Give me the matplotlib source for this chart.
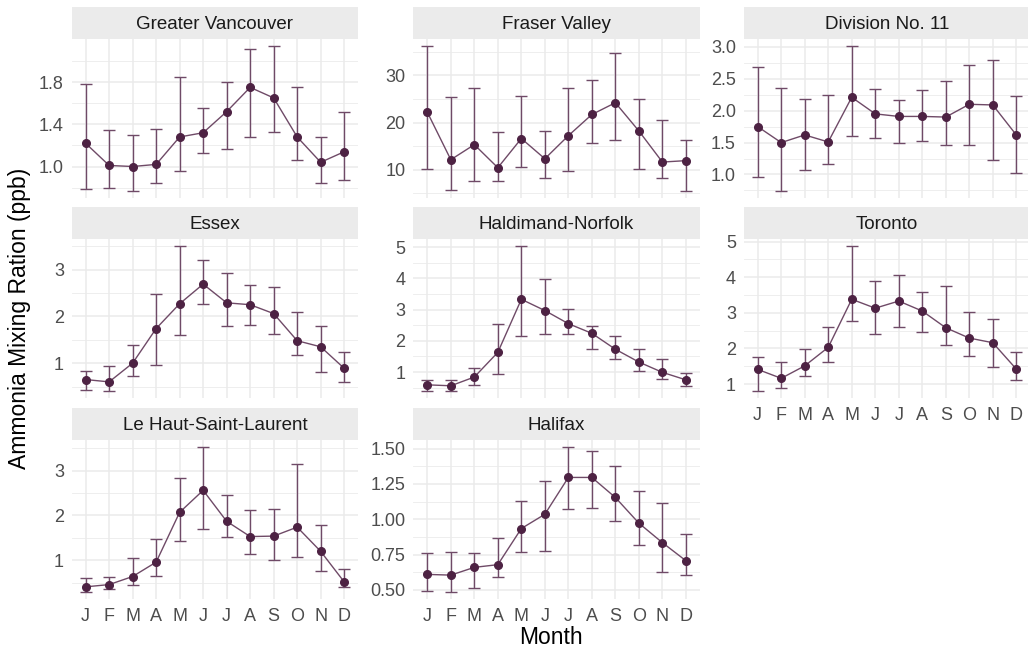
import matplotlib
matplotlib.use("Agg")
import matplotlib.pyplot as plt
from matplotlib.ticker import FixedLocator, FixedFormatter
import numpy as np

plt.rcParams['font.family'] = ['Liberation Sans', 'DejaVu Sans']

months = ["J", "F", "M", "A", "M", "J", "J", "A", "S", "O", "N", "D"]

regions = ["Greater Vancouver", "Fraser Valley", "Division No. 11",
           "Essex", "Haldimand-Norfolk", "Toronto",
           "Le Haut-Saint-Laurent", "Halifax"]

# monthly mean, lower and upper bound (ppb)
vancouver_mean = [1.22, 1.01, 1.00, 1.02, 1.28, 1.32, 1.52, 1.75, 1.65, 1.28, 1.04, 1.14]
vancouver_low = [0.79, 0.80, 0.77, 0.84, 0.96, 1.13, 1.17, 1.28, 1.33, 1.06, 0.84, 0.87]
vancouver_high = [1.78, 1.35, 1.30, 1.36, 1.85, 1.55, 1.80, 2.11, 2.14, 1.75, 1.28, 1.52]

fraser_mean = [22.2, 12.1, 15.3, 10.4, 16.6, 12.3, 17.2, 21.7, 24.2, 18.2, 11.6, 11.9]
fraser_low = [10.1, 5.7, 7.5, 7.6, 10.5, 8.2, 9.6, 15.6, 16.3, 10.1, 8.2, 5.5]
fraser_high = [36.2, 25.5, 27.3, 17.9, 25.7, 18.2, 27.3, 29.0, 34.8, 24.9, 20.5, 16.3]

division_mean = [1.75, 1.50, 1.62, 1.51, 2.21, 1.95, 1.91, 1.91, 1.90, 2.10, 2.09, 1.62]
division_low = [0.96, 0.745, 1.07, 1.17, 1.61, 1.57, 1.49, 1.52, 1.47, 1.46, 1.22, 1.02]
division_high = [2.68, 2.36, 2.19, 2.25, 3.01, 2.34, 2.17, 2.33, 2.47, 2.71, 2.79, 2.23]

essex_mean = [0.65, 0.60, 1.00, 1.74, 2.27, 2.69, 2.29, 2.25, 2.06, 1.48, 1.35, 0.89]
essex_low = [0.43, 0.41, 0.73, 0.96, 1.61, 2.27, 1.80, 1.81, 1.63, 1.17, 0.82, 0.59]
essex_high = [0.84, 0.93, 1.38, 2.48, 3.50, 3.21, 2.92, 2.67, 2.63, 2.09, 1.80, 1.23]

haldimand_mean = [0.59, 0.56, 0.84, 1.63, 3.33, 2.97, 2.55, 2.24, 1.73, 1.32, 0.99, 0.75]
haldimand_low = [0.40, 0.40, 0.59, 0.93, 2.14, 2.22, 2.23, 1.75, 1.42, 1.04, 0.78, 0.55]
haldimand_high = [0.76, 0.73, 1.13, 2.54, 5.03, 3.98, 3.03, 2.46, 2.15, 1.73, 1.42, 0.97]

toronto_mean = [1.41, 1.16, 1.51, 2.03, 3.38, 3.13, 3.33, 3.05, 2.58, 2.29, 2.16, 1.42]
toronto_low = [0.81, 0.88, 1.23, 1.62, 2.76, 2.40, 2.60, 2.45, 2.09, 1.79, 1.48, 1.12]
toronto_high = [1.76, 1.62, 1.97, 2.61, 4.87, 3.90, 4.05, 3.59, 3.76, 3.01, 2.84, 1.91]

laurent_mean = [0.41, 0.46, 0.64, 0.96, 2.07, 2.56, 1.87, 1.53, 1.54, 1.74, 1.20, 0.52]
laurent_low = [0.30, 0.37, 0.44, 0.66, 1.44, 1.70, 1.53, 1.15, 1.01, 1.07, 0.76, 0.41]
laurent_high = [0.61, 0.64, 1.05, 1.47, 2.83, 3.52, 2.45, 2.13, 2.14, 3.14, 1.79, 0.81]

halifax_mean = [0.609, 0.604, 0.659, 0.678, 0.934, 1.035, 1.296, 1.296, 1.154, 0.972, 0.834, 0.706]
halifax_low = [0.49, 0.486, 0.51, 0.588, 0.765, 0.773, 1.07, 1.078, 0.99, 0.818, 0.623, 0.602]
halifax_high = [0.763, 0.765, 0.761, 0.865, 1.13, 1.27, 1.51, 1.48, 1.38, 1.20, 1.118, 0.896]

# y tick labels per panel
vancouver_ticks = ["1.0", "1.4", "1.8"]
fraser_ticks = ["10", "20", "30"]
division_ticks = ["1.0", "1.5", "2.0", "2.5", "3.0"]
essex_ticks = ["1", "2", "3"]
haldimand_ticks = ["1", "2", "3", "4", "5"]
toronto_ticks = ["1", "2", "3", "4", "5"]
laurent_ticks = ["1", "2", "3"]
halifax_ticks = ["0.50", "0.75", "1.00", "1.25", "1.50"]

series = [
    (vancouver_mean, vancouver_low, vancouver_high, vancouver_ticks),
    (fraser_mean, fraser_low, fraser_high, fraser_ticks),
    (division_mean, division_low, division_high, division_ticks),
    (essex_mean, essex_low, essex_high, essex_ticks),
    (haldimand_mean, haldimand_low, haldimand_high, haldimand_ticks),
    (toronto_mean, toronto_low, toronto_high, toronto_ticks),
    (laurent_mean, laurent_low, laurent_high, laurent_ticks),
    (halifax_mean, halifax_low, halifax_high, halifax_ticks),
]

W, H = 1028, 651
fig = plt.figure(figsize=(W / 100, H / 100), dpi=100)

col_left = [71.5, 413.2, 743.6]
panel_w = 286.8
row_top = [39, 239, 440]   # top of panel area (strip sits above)
panel_h = 159
strip_h = 32

line_col = "#6f4a67"
point_col = "#4d2243"
grid_col = "#ebebeb"
x = np.arange(12)

for i, (name, (mean, low, high, ticks)) in enumerate(zip(regions, series)):
    r, c = divmod(i, 3)
    left = col_left[c]
    top = row_top[r]
    ax = fig.add_axes([left / W, 1 - (top + panel_h) / H, panel_w / W, panel_h / H])
    sax = fig.add_axes([left / W, 1 - top / H, panel_w / W, strip_h / H])
    sax.set_facecolor("#ebebeb")
    sax.set_xticks([])
    sax.set_yticks([])
    for s in sax.spines.values():
        s.set_visible(False)
    sax.text(0.5, 0.45, name, ha="center", va="center", fontsize=13.5, color="#1a1a1a",
             transform=sax.transAxes)

    mean = np.array(mean)
    low = np.array(low)
    high = np.array(high)
    ax.errorbar(x, mean, yerr=[mean - low, high - mean], fmt="none", ecolor=line_col,
                elinewidth=1.0, capsize=4, capthick=1.0, zorder=3)
    ax.plot(x, mean, color=line_col, lw=1.0, zorder=3)
    ax.plot(x, mean, "o", color=point_col, ms=5.5, zorder=4)

    ax.set_xlim(-0.6, 11.6)
    lo, hi = low.min(), high.max()
    pad = (hi - lo) * 0.05
    ax.set_ylim(lo - pad, hi + pad)

    vals = [float(t) for t in ticks]
    step = vals[1] - vals[0]
    minors = np.arange(vals[0] - step / 2, vals[-1] + step, step)
    ax.yaxis.set_major_locator(FixedLocator(vals))
    ax.yaxis.set_major_formatter(FixedFormatter(ticks))
    ax.yaxis.set_minor_locator(FixedLocator(minors))
    ax.set_xticks(x)
    show_x = (r == 2) or (r == 1 and c == 2)
    ax.set_xticklabels(months if show_x else [])

    ax.set_facecolor("white")
    for s in ax.spines.values():
        s.set_visible(False)
    ax.tick_params(axis="both", which="both", length=0, labelsize=13, labelcolor="#4d4d4d")
    ax.tick_params(axis="y", pad=5.5)
    ax.tick_params(axis="x", pad=6.5)
    ax.grid(True, which="major", color=grid_col, lw=1.1, zorder=0)
    ax.grid(True, which="minor", axis="y", color=grid_col, lw=0.6, zorder=0)
    ax.set_axisbelow(True)

fig.text(20 / W, 1 - 318 / H, "Ammonia Mixing Ration (ppb)", rotation=90,
         ha="center", va="center", fontsize=16.5, color="black")
fig.text(551 / W, 1 - 638 / H, "Month", ha="center", va="center", fontsize=16.5, color="black")

fig.savefig("out.png", dpi=100)
